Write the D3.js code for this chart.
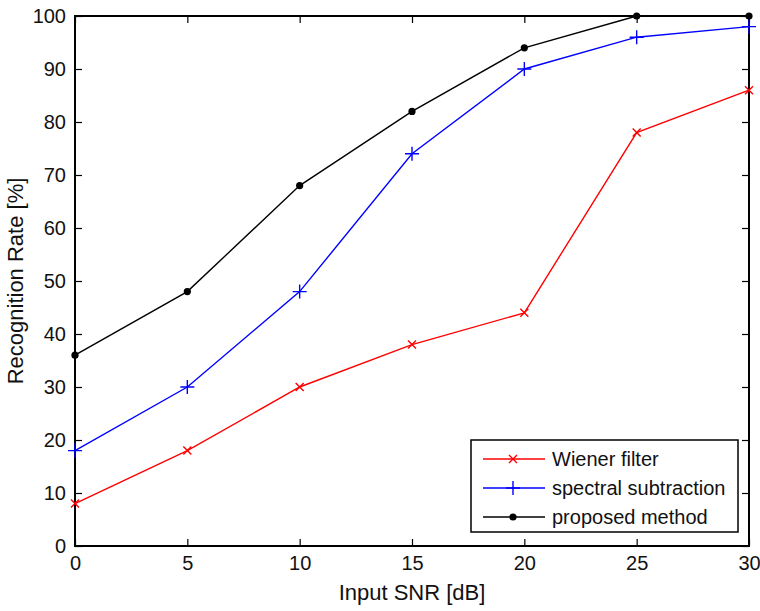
<!DOCTYPE html>
<html>
<head>
<meta charset="utf-8">
<script src="https://cdn.jsdelivr.net/npm/d3@7"></script>
<style>
  body { margin: 0; background: #fff; }
  text { font-family: "Liberation Sans", Arial, sans-serif; }
</style>
</head>
<body>
<div id="chart"></div>
<script>
// data
var snr = [0, 5, 10, 15, 20, 25, 30];
var wiener = [8, 18, 30, 38, 44, 78, 86];
var spectral = [18, 30, 48, 74, 90, 96, 98];
var proposed = [36, 48, 68, 82, 94, 100, 100];
var seriesNames = ["Wiener filter", "spectral subtraction", "proposed method"];
var xTicks = [0, 5, 10, 15, 20, 25, 30];
var yTicks = [0, 10, 20, 30, 40, 50, 60, 70, 80, 90, 100];

var W = 760, H = 611;
var margin = {top: 16, right: 11, bottom: 65, left: 75},
    width = W - margin.left - margin.right,
    height = H - margin.top - margin.bottom;

var svg = d3.select("#chart").append("svg")
    .attr("width", W).attr("height", H)
  .append("g")
    .attr("transform", "translate(" + margin.left + "," + margin.top + ")");

var x = d3.scaleLinear().domain([0, 30]).range([0, width]);
var y = d3.scaleLinear().domain([0, 100]).range([height, 0]);

// axes with inward ticks, box on all four sides
function styleAxis(g) {
  g.select(".domain").remove();
  g.selectAll("line").attr("stroke", "#000").attr("stroke-width", 1.2);
  g.selectAll("text").style("font-size", "20px").attr("fill", "#111");
}
svg.append("g").attr("transform", "translate(0," + height + ")")
  .call(d3.axisBottom(x).tickValues(xTicks).tickSizeInner(-7).tickPadding(10))
  .call(styleAxis);
svg.append("g")
  .call(d3.axisLeft(y).tickValues(yTicks).tickSizeInner(-7).tickPadding(9))
  .call(styleAxis);
svg.append("g")
  .call(d3.axisTop(x).tickValues(xTicks).tickSizeInner(-7).tickFormat(""))
  .call(styleAxis);
svg.append("g").attr("transform", "translate(" + width + ",0)")
  .call(d3.axisRight(y).tickValues(yTicks).tickSizeInner(-7).tickFormat(""))
  .call(styleAxis);

svg.append("rect")
  .attr("width", width).attr("height", height)
  .attr("fill", "none").attr("stroke", "#000").attr("stroke-width", 2);

var series = [
  {name: seriesNames[0], values: wiener, color: "#ff0000", marker: "x"},
  {name: seriesNames[1], values: spectral, color: "#0000ff", marker: "plus"},
  {name: seriesNames[2], values: proposed, color: "#000000", marker: "dot"}
];

function drawMarker(g, type, color, cx, cy) {
  if (type === "x") {
    var s = 4;
    g.append("path")
      .attr("d", "M" + (cx - s) + "," + (cy - s) + "L" + (cx + s) + "," + (cy + s) +
                 "M" + (cx - s) + "," + (cy + s) + "L" + (cx + s) + "," + (cy - s))
      .attr("stroke", color).attr("stroke-width", 1.4).attr("fill", "none");
  } else if (type === "plus") {
    var p = 7;
    g.append("path")
      .attr("d", "M" + (cx - p) + "," + cy + "L" + (cx + p) + "," + cy +
                 "M" + cx + "," + (cy - p) + "L" + cx + "," + (cy + p))
      .attr("stroke", color).attr("stroke-width", 1.4).attr("fill", "none");
  } else {
    g.append("circle").attr("cx", cx).attr("cy", cy).attr("r", 3.6).attr("fill", color);
  }
}

var line = d3.line()
  .x(function(d, i) { return x(snr[i]); })
  .y(function(d) { return y(d); });

series.forEach(function(s) {
  var g = svg.append("g");
  g.append("path").datum(s.values)
    .attr("fill", "none").attr("stroke", s.color).attr("stroke-width", 1.4)
    .attr("d", line);
  s.values.forEach(function(v, i) { drawMarker(g, s.marker, s.color, x(snr[i]), y(v)); });
});

// legend
var lg = svg.append("g").attr("transform", "translate(" + (471 - margin.left) + "," + (440 - margin.top) + ")");
lg.append("rect").attr("width", 267).attr("height", 92)
  .attr("fill", "#fff").attr("stroke", "#000").attr("stroke-width", 1.5);
series.forEach(function(s, i) {
  var yy = 19 + i * 29;
  lg.append("line").attr("x1", 12).attr("x2", 74).attr("y1", yy).attr("y2", yy)
    .attr("stroke", s.color).attr("stroke-width", 1.4);
  drawMarker(lg, s.marker, s.color, 42, yy);
  lg.append("text").attr("x", 81).attr("y", yy).attr("dy", "0.35em")
    .style("font-size", "20px").attr("fill", "#111").text(s.name);
});

// axis labels
svg.append("text")
  .attr("x", width / 2).attr("y", height + 54)
  .attr("text-anchor", "middle").style("font-size", "22px").attr("fill", "#111")
  .text("Input SNR [dB]");
svg.append("text")
  .attr("transform", "translate(" + (-52) + "," + (height / 2) + ") rotate(-90)")
  .attr("text-anchor", "middle").style("font-size", "22px").attr("fill", "#111")
  .text("Recognition Rate [%]");
</script>
</body>
</html>
